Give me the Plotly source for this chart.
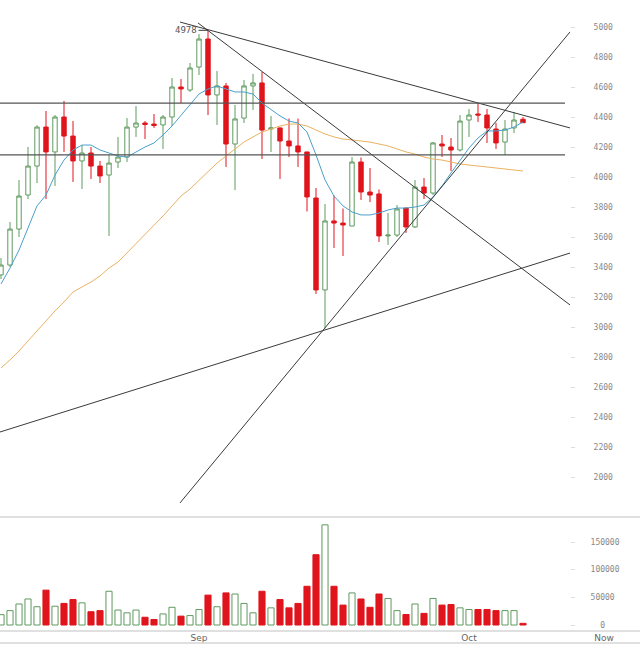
import plotly.graph_objects as go
import pandas as pd

# ---------------- data ----------------
dates = pd.date_range("2017-08-10", periods=59, freq="D")

opens = [3347, 3413, 3653, 3880, 4073, 4333, 4167, 4400, 4273, 4107,
         4160, 4073, 4013, 4100, 4133, 4333, 4360, 4353, 4347, 4400,
         4600, 4580, 4733, 4920, 4547, 4607, 4220, 4393, 4607, 4627,
         4320, 4327, 4240, 4207, 4167, 3860, 3247, 3707, 3693, 3673,
         4100, 3900, 3887, 3607, 3613, 3793, 3667, 3933, 3893, 4220,
         4200, 4180, 4380, 4420, 4413, 4320, 4233, 4327, 4385]
highs = [3460, 3700, 3980, 4200, 4345, 4440, 4413, 4507, 4373, 4213,
         4200, 4107, 4147, 4267, 4393, 4473, 4373, 4420, 4413, 4660,
         4653, 4760, 4953, 4978, 4707, 4627, 4480, 4647, 4687, 4700,
         4407, 4330, 4390, 4390, 4167, 3927, 3820, 3877, 3790, 4133,
         4130, 4060, 3917, 3760, 3813, 3793, 3980, 3993, 4233, 4280,
         4260, 4413, 4453, 4493, 4453, 4360, 4380, 4433, 4400]
lows = [3320, 3400, 3600, 3853, 3960, 3853, 3940, 4167, 3967, 3920,
        3987, 3960, 3607, 4060, 4100, 4267, 4253, 4327, 4187, 4340,
        4493, 4567, 4680, 4413, 4347, 4067, 3913, 4360, 4447, 4120,
        4167, 3987, 4133, 4067, 3770, 3220, 2990, 3527, 3473, 3673,
        3847, 3833, 3567, 3547, 3600, 3627, 3660, 3853, 3880, 4133,
        4040, 4170, 4267, 4367, 4227, 4187, 4147, 4293, 4360]
closes = [3413, 3653, 3873, 4073, 4333, 4167, 4400, 4273, 4107, 4160,
          4073, 4007, 4093, 4133, 4333, 4360, 4350, 4343, 4400, 4600,
          4587, 4727, 4920, 4547, 4607, 4220, 4387, 4607, 4627, 4313,
          4327, 4240, 4207, 4167, 3867, 3247, 3707, 3693, 3680, 4100,
          3900, 3880, 3607, 3613, 3787, 3667, 3933, 3893, 4227, 4207,
          4180, 4373, 4413, 4413, 4327, 4227, 4320, 4380, 4362]
volumes = [18700, 26000, 38000, 47000, 33000, 63000, 34000, 39000, 46000, 40000,
           24000, 26000, 61000, 27000, 22000, 27000, 14000, 10000, 20000, 32000,
           16000, 17000, 28000, 54000, 33000, 58000, 56000, 39000, 22000, 61000,
           31000, 46000, 31000, 39000, 70000, 127000, 181000, 70000, 36000, 58000,
           47000, 32000, 56000, 48000, 26000, 19000, 38000, 21000, 48000, 36000,
           37000, 31000, 28000, 28000, 28000, 26000, 26000, 26000, 3000]
ma_fast = [3287, 3393, 3513, 3660, 3807, 3880, 4013, 4113, 4180, 4213,
           4213, 4180, 4160, 4140, 4133, 4167, 4200, 4227, 4280, 4340,
           4413, 4480, 4553, 4587, 4607, 4587, 4567, 4567, 4553, 4493,
           4447, 4407, 4373, 4360, 4300, 4147, 3980, 3873, 3807, 3767,
           3747, 3747, 3760, 3780, 3793, 3793, 3800, 3813, 3867, 3940,
           4027, 4113, 4193, 4260, 4307, 4307, 4313, 4333, 4367]
ma_slow = [2727, 2780, 2840, 2907, 2973, 3040, 3107, 3167, 3233, 3267,
           3300, 3340, 3393, 3433, 3493, 3553, 3620, 3673, 3740, 3807,
           3873, 3920, 3980, 4033, 4093, 4140, 4187, 4233, 4267, 4300,
           4320, 4340, 4353, 4353, 4340, 4313, 4287, 4267, 4253, 4247,
           4240, 4233, 4220, 4207, 4187, 4167, 4153, 4133, 4120, 4113,
           4100, 4087, 4080, 4073, 4067, 4060, 4053, 4047, 4040]

# drawn lines: (start date, start price, end date, end price)
trend_lines = [
    ("2017-08-29 21:20", 5033, "2017-10-12 05:20", 4327),
    ("2017-08-31 21:20", 5027, "2017-10-12 05:20", 3147),
    ("2017-08-29 21:20", 1827, "2017-10-12 05:20", 4967),
    ("2017-08-09 21:20", 2300, "2017-10-12 05:20", 3493),
]
level_lines = [4493, 4147]
level_span = ("2017-08-09 21:20", "2017-10-11 16:00")

peak_date, peak_price, peak_label = "2017-09-02", 4978, "4978"

x_tickvals = ["2017-09-01", "2017-10-01", "2017-10-16"]
x_ticktext = ["Sep", "Oct", "Now"]
price_ticks = list(range(2000, 5001, 200))
vol_tickvals = [0, 50000, 100000, 150000]
vol_ticktext = ["\u00a0\u00a00", "50000", "100000", "150000"]

# ---------------- style ----------------
W, H = 640, 647
GREEN = "#5f9a5f"
RED = "#e0141c"
BLUE = "#4a9fcb"
ORANGE = "#e9b263"
LINE = "#3a3a3a"
HLINE = "#555555"
BORDER = "#d6d6d6"
TICKFONT = dict(family="DejaVu Sans Mono", size=8, color="#888888")

fig = go.Figure()

fig.add_trace(go.Candlestick(
    x=dates, open=opens, high=highs, low=lows, close=closes,
    increasing=dict(line=dict(color=GREEN, width=1), fillcolor="white"),
    decreasing=dict(line=dict(color=RED, width=1), fillcolor=RED),
    whiskerwidth=0, xaxis="x2", yaxis="y", showlegend=False, hoverinfo="skip"))

fig.add_trace(go.Scatter(x=dates, y=ma_slow, mode="lines",
                         line=dict(color=ORANGE, width=1),
                         xaxis="x2", yaxis="y", showlegend=False, hoverinfo="skip"))
fig.add_trace(go.Scatter(x=dates, y=ma_fast, mode="lines",
                         line=dict(color=BLUE, width=1),
                         xaxis="x2", yaxis="y", showlegend=False, hoverinfo="skip"))

for x0, y0, x1, y1 in trend_lines:
    fig.add_trace(go.Scatter(x=[x0, x1], y=[y0, y1], mode="lines",
                             line=dict(color=LINE, width=1),
                             xaxis="x2", yaxis="y", showlegend=False, hoverinfo="skip"))
for lv in level_lines:
    fig.add_trace(go.Scatter(x=list(level_span), y=[lv, lv], mode="lines",
                             line=dict(color=HLINE, width=1.3),
                             xaxis="x2", yaxis="y", showlegend=False, hoverinfo="skip"))

up = [c >= o for o, c in zip(opens, closes)]
fig.add_trace(go.Bar(
    x=dates, y=volumes, width=0.68 * 86400000,
    marker=dict(color=["white" if u else RED for u in up],
                line=dict(color=[GREEN if u else RED for u in up], width=1)),
    xaxis="x", yaxis="y2", showlegend=False, hoverinfo="skip"))

# axis geometry (pixels -> paper / data)
vol_top_px, vol_bot_px = 517, 631
day0 = pd.Timestamp("2017-08-10")
x_start = day0 + pd.Timedelta(days=-1 / 9)
x_end = day0 + pd.Timedelta(days=639 / 9)
price_top = 5000 + 27 / 0.15
price_bot = 5000 - (vol_top_px - 27) / 0.15
vpp = 150000 / 83.0
vol_lo = -(vol_bot_px - 625) * vpp
vol_hi = (625 - vol_top_px) * vpp
ax_pos = 570 / W

fig.update_layout(
    width=W, height=H, margin=dict(l=0, r=0, t=0, b=0),
    paper_bgcolor="white", plot_bgcolor="white",
    hovermode=False, showlegend=False,
    xaxis=dict(domain=[0, 1], anchor="y2", type="date",
               range=[x_start, x_end], tickvals=x_tickvals, ticktext=x_ticktext,
               ticks="", showgrid=False, zeroline=False, showline=False,
               tickfont=dict(family="DejaVu Sans", size=9, color="#666666"),
               rangeslider=dict(visible=False)),
    xaxis2=dict(domain=[0, 1], anchor="y", matches="x", type="date",
                showticklabels=False, ticks="", showgrid=False, zeroline=False,
                showline=False, rangeslider=dict(visible=False)),
    yaxis=dict(domain=[(H - vol_top_px) / H, 1], range=[price_bot, price_top],
               anchor="free", position=ax_pos, side="right",
               tickvals=price_ticks, ticks="outside", ticklen=4, tickcolor="#dddddd",
               ticklabelstandoff=17, tickfont=TICKFONT,
               showgrid=False, zeroline=False, showline=False),
    yaxis2=dict(domain=[(H - vol_bot_px) / H, (H - vol_top_px) / H],
                range=[vol_lo, vol_hi], anchor="free", position=ax_pos, side="right",
                tickvals=vol_tickvals, ticktext=vol_ticktext,
                ticks="outside", ticklen=4, tickcolor="#dddddd",
                ticklabelstandoff=14, tickfont=TICKFONT,
                showgrid=False, zeroline=False, showline=False),
    shapes=[
        dict(type="line", xref="paper", yref="paper", x0=0, x1=1,
             y0=(H - vol_top_px) / H, y1=(H - vol_top_px) / H,
             line=dict(color=BORDER, width=1.5)),
        dict(type="line", xref="paper", yref="paper", x0=0, x1=1,
             y0=(H - vol_bot_px) / H, y1=(H - vol_bot_px) / H,
             line=dict(color=BORDER, width=1.5)),
        dict(type="line", xref="paper", yref="paper", x0=0, x1=1,
             y0=(H - 643) / H, y1=(H - 643) / H,
             line=dict(color=BORDER, width=1.5)),
    ],
    annotations=[dict(x=peak_date, y=peak_price, xref="x2", yref="y",
                      text=peak_label, showarrow=True, arrowhead=0,
                      arrowwidth=1, arrowcolor=LINE, ax=-22, ay=0,
                      font=dict(family="DejaVu Sans Mono", size=9, color="#555555"))],
)

fig.write_html("out.html")
